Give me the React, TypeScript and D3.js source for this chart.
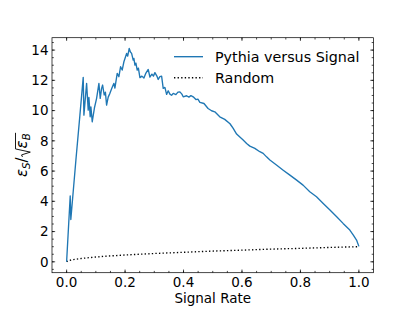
import React from 'react';
import * as d3 from "d3";

// signal rate vs eps_S / sqrt(eps_B)
const pythiaCurve: [number, number][] = [
    [0, 0], [0.0123, 4.35], [0.0144, 2.8], [0.0318, 6.73], [0.0455, 9.7], [0.0568, 12.2],
    [0.0592, 9.7], [0.0684, 11.8], [0.0739, 10.03], [0.0763, 10.87], [0.0807, 9.59], [0.0831, 10.25],
    [0.0876, 9.26], [0.0951, 10.17], [0.1026, 10.81], [0.1105, 11.8], [0.115, 10.81], [0.1197, 11.47],
    [0.1232, 11.69], [0.1286, 11.03], [0.1327, 11.22], [0.1368, 10.36], [0.1423, 10.89], [0.1481, 11.14],
    [0.155, 11.49], [0.1618, 11.8], [0.1652, 11.49], [0.1731, 12.46], [0.1789, 12.24], [0.1847, 12.9],
    [0.1902, 12.68], [0.196, 13.23], [0.2053, 13.78], [0.209, 13.6], [0.2142, 14.11], [0.2183, 13.87],
    [0.2224, 13.78], [0.2278, 13.34], [0.2302, 13.45], [0.2337, 13.01], [0.2371, 13.14], [0.2415, 12.68],
    [0.2456, 12.81], [0.2508, 12.18], [0.2576, 12.28], [0.2645, 12.15], [0.2713, 12.48], [0.2792, 12.72],
    [0.285, 12.22], [0.2918, 12.41], [0.297, 12.28], [0.3021, 12.51], [0.3089, 12.28], [0.3134, 12.06],
    [0.3192, 12.25], [0.325, 12.28], [0.3305, 11.47], [0.3363, 11.53], [0.3421, 11.07], [0.3476, 11.31],
    [0.3534, 11.09], [0.3592, 11.01], [0.3647, 11.14], [0.3739, 11.06], [0.3808, 11.22], [0.3876, 11.24],
    [0.3944, 11.09], [0.3989, 10.91], [0.4105, 10.98], [0.4184, 10.89], [0.4253, 10.99], [0.4331, 10.91],
    [0.4424, 10.73], [0.4492, 10.76], [0.456, 10.54], [0.47, 10.47], [0.484, 10.14], [0.496, 9.99],
    [0.507, 9.92], [0.524, 9.59], [0.541, 9.42], [0.559, 9.13], [0.57, 8.82], [0.5816, 8.45],
    [0.604, 8.05], [0.6158, 7.83], [0.627, 7.65], [0.644, 7.5], [0.661, 7.28], [0.6726, 7.17],
    [0.684, 6.94], [0.6955, 6.73], [0.718, 6.4], [0.741, 6.06], [0.764, 5.73], [0.787, 5.4],
    [0.809, 5.07], [0.832, 4.63], [0.855, 4.3], [0.878, 3.86], [0.901, 3.42], [0.924, 2.98],
    [0.946, 2.54], [0.969, 2.1], [0.981, 1.77], [0.992, 1.44], [1.0, 1.02]
];

const randomCurve: [number, number][] = [
    [0, 0], [0.005, 0.07], [0.02, 0.14], [0.05, 0.22], [0.1, 0.32], [0.15, 0.39], [0.2, 0.45],
    [0.3, 0.55], [0.4, 0.63], [0.5, 0.71], [0.6, 0.77], [0.7, 0.84], [0.8, 0.89], [0.9, 0.95], [1.0, 1.0]
];

const xTicks = [0, 0.2, 0.4, 0.6, 0.8, 1.0];
const yTicks = [0, 2, 4, 6, 8, 10, 12, 14];
const legendLabels = ["Pythia versus Signal", "Random"];

const FONT = "'DejaVu Sans', sans-serif";
const BLUE = "#1f77b4";

class SignalChart extends React.Component {
    private node: SVGSVGElement | null = null;

    componentDidMount(): void {
        const W = 415, H = 312;
        const left = 52, right = 373.5, top = 37.7, bottom = 272.7;

        const svg = d3.select(this.node);
        svg.selectAll("*").remove();

        const x = d3.scaleLinear().domain([-0.05, 1.05]).range([left, right]);
        const y = d3.scaleLinear().domain([-0.72, 14.82]).range([bottom, top]);

        svg.append("rect").attr("width", W).attr("height", H).attr("fill", "white");

        //lines
        const line = d3.line<[number, number]>().x(d => x(d[0])).y(d => y(d[1]));

        svg.append("path")
            .attr("d", line(randomCurve))
            .attr("fill", "none")
            .attr("stroke", "black")
            .attr("stroke-width", 1.35)
            .attr("stroke-dasharray", "1.35,2.23");

        svg.append("path")
            .attr("d", line(pythiaCurve))
            .attr("fill", "none")
            .attr("stroke", BLUE)
            .attr("stroke-width", 1.35)
            .attr("stroke-linejoin", "round");

        //ticks, inward on all four sides
        const tickG = svg.append("g").attr("stroke", "black").attr("stroke-width", 0.72);
        const xMinor = d3.range(-1, 22).map(i => i * 0.05).filter(v => v > -0.05 && v < 1.05);
        const yMinor = d3.range(-1, 30).map(i => i * 0.5).filter(v => v > -0.72 && v < 14.82);
        const xt = (vals: number[], len: number) => vals.forEach(v => {
            tickG.append("line").attr("x1", x(v)).attr("x2", x(v)).attr("y1", bottom).attr("y2", bottom - len);
            tickG.append("line").attr("x1", x(v)).attr("x2", x(v)).attr("y1", top).attr("y2", top + len);
        });
        const yt = (vals: number[], len: number) => vals.forEach(v => {
            tickG.append("line").attr("y1", y(v)).attr("y2", y(v)).attr("x1", left).attr("x2", left + len);
            tickG.append("line").attr("y1", y(v)).attr("y2", y(v)).attr("x1", right).attr("x2", right - len);
        });
        xt(xMinor, 1.8);
        xt(xTicks, 3.15);
        yt(yMinor, 1.8);
        yt(yTicks, 3.15);

        svg.append("rect")
            .attr("x", left).attr("y", top)
            .attr("width", right - left).attr("height", bottom - top)
            .attr("fill", "none").attr("stroke", "black").attr("stroke-width", 0.72);

        //tick labels
        svg.append("g").selectAll("text").data(xTicks).join("text")
            .attr("x", d => x(d)).attr("y", 287)
            .attr("text-anchor", "middle")
            .attr("font-family", FONT).attr("font-size", 13.5)
            .text(d => d.toFixed(1));

        svg.append("g").selectAll("text").data(yTicks).join("text")
            .attr("x", 48.5).attr("y", d => y(d))
            .attr("dy", "0.36em")
            .attr("text-anchor", "end")
            .attr("font-family", FONT).attr("font-size", 13.5)
            .text(d => String(d));

        svg.append("text")
            .attr("x", (left + right) / 2).attr("y", 302.5)
            .attr("text-anchor", "middle")
            .attr("font-family", FONT).attr("font-size", 13.5)
            .text("Signal Rate");

        //y label: eps_S / sqrt(eps_B)
        const lab = svg.append("g").attr("transform", `translate(26.5,${(top + bottom) / 2}) rotate(-90)`);
        const inner = lab.append("g");
        let cx = 0;
        const put = (t: string, size: number, dy: number, italic: boolean) => {
            const el = inner.append("text")
                .attr("x", cx).attr("y", dy)
                .attr("font-family", FONT).attr("font-size", size)
                .attr("font-style", italic ? "italic" : "normal")
                .text(t);
            const w = (el.node() as SVGTextElement).getComputedTextLength();
            cx += w;
            return w;
        };
        put("ε", 15, 0, true);
        put("S", 10.2, 3, true);
        put("/", 15, 0, false);
        const rx = cx + 0.5;
        cx = rx + 8.5;
        put("ε", 15, 0, true);
        put("B", 10.2, 3, true);
        inner.append("path")
            .attr("d", `M${rx},-4 L${rx + 2},-5 L${rx + 4.8},3.8 L${rx + 8},-11 L${cx + 0.5},-11`)
            .attr("fill", "none").attr("stroke", "black").attr("stroke-width", 0.9);
        inner.attr("transform", `translate(${-cx / 2},0)`);

        //legend
        const legend = svg.append("g");
        legend.append("line").attr("x1", 174).attr("x2", 203).attr("y1", 56.7).attr("y2", 56.7)
            .attr("stroke", BLUE).attr("stroke-width", 1.35);
        legend.append("line").attr("x1", 174).attr("x2", 203).attr("y1", 77.7).attr("y2", 77.7)
            .attr("stroke", "black").attr("stroke-width", 1.35).attr("stroke-dasharray", "1.35,2.23");
        legend.selectAll("text.lbl").data(legendLabels).join("text")
            .attr("class", "lbl")
            .attr("x", 215).attr("y", (d, i) => 61.7 + i * 21.3)
            .attr("font-family", FONT).attr("font-size", 14.3)
            .text(d => d);
    }

    render() {
        return (
            <svg ref={el => { this.node = el; }} width={415} height={312}
                 style={{position: "absolute", left: 0, top: 0}}/>
        );
    }
}

export default function App() {
    return <SignalChart/>;
}
